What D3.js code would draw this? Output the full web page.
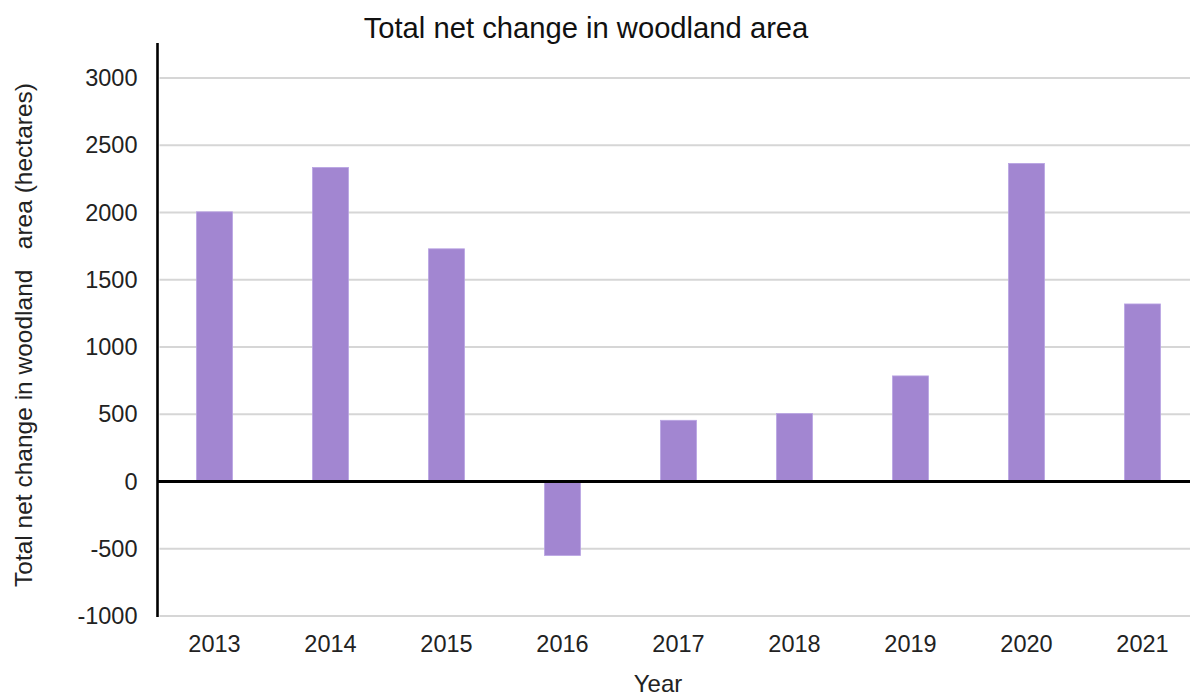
<!DOCTYPE html>
<html>
<head>
<meta charset="utf-8">
<script src="https://cdn.jsdelivr.net/npm/d3@7"></script>
<style>
  html, body { margin: 0; padding: 0; background: #ffffff; }
  svg { display: block; font-family: "Liberation Sans", Arial, sans-serif; }
</style>
</head>
<body>
<svg id="chart" width="1190" height="698"></svg>
<script>
// Net change in woodland area per year (hectares)
const years = ["2013", "2014", "2015", "2016", "2017", "2018", "2019", "2020", "2021"];
const netChange = [2005, 2335, 1730, -550, 455, 505, 785, 2365, 1320];
const yTicks = [-1000, -500, 0, 500, 1000, 1500, 2000, 2500, 3000];

const titleText = "Total net change in woodland area";
const yTitle = "Total net change in woodland   area (hectares)";
const xTitle = "Year";

const svg = d3.select("#chart");
const W = 1190;

const x = d3.scaleBand()
  .domain(years)
  .range([156.5, 1200.5])
  .paddingInner(0.69)
  .paddingOuter(0.345);

const y = d3.scaleLinear()
  .domain([-1000, 3000])
  .range([616, 78]);

const axisLeftX = 157.5;

// horizontal gridlines
svg.append("g")
  .selectAll("line")
  .data(yTicks.filter(d => d !== 0))
  .join("line")
  .attr("x1", axisLeftX + 2)
  .attr("x2", W)
  .attr("y1", d => y(d))
  .attr("y2", d => y(d))
  .attr("stroke", "#d6d6d6")
  .attr("stroke-width", 2);

// bars
svg.append("g")
  .selectAll("rect")
  .data(years.map((yr, i) => ({ yr, v: netChange[i] })))
  .join("rect")
  .attr("x", d => x(d.yr))
  .attr("width", x.bandwidth())
  .attr("y", d => y(Math.max(0, d.v)))
  .attr("height", d => Math.abs(y(d.v) - y(0)))
  .attr("fill", "#a286d1")
  .attr("stroke", "#b9a3e3")
  .attr("stroke-width", 0.8);

// zero baseline
svg.append("line")
  .attr("x1", axisLeftX)
  .attr("x2", W)
  .attr("y1", y(0))
  .attr("y2", y(0))
  .attr("stroke", "#000")
  .attr("stroke-width", 3);

// left axis: labels only, plain hyphen for negatives
const yAxis = d3.axisLeft(y)
  .tickValues(yTicks)
  .tickSize(0)
  .tickPadding(20)
  .tickFormat(d => String(d));

const gy = svg.append("g")
  .attr("transform", `translate(${axisLeftX},0)`)
  .call(yAxis);
gy.select(".domain").remove();
gy.selectAll("text")
  .attr("font-size", 23.5)
  .attr("font-family", "Liberation Sans, Arial, sans-serif")
  .attr("fill", "#222");

svg.append("line")
  .attr("x1", axisLeftX)
  .attr("x2", axisLeftX)
  .attr("y1", 43)
  .attr("y2", 617)
  .attr("stroke", "#000")
  .attr("stroke-width", 2.6);

// bottom category labels
const xAxis = d3.axisBottom(x).tickSize(0).tickPadding(0);
const gx = svg.append("g")
  .attr("transform", "translate(0,635)")
  .call(xAxis);
gx.select(".domain").remove();
gx.selectAll("text")
  .attr("font-size", 23.5)
  .attr("font-family", "Liberation Sans, Arial, sans-serif")
  .attr("fill", "#222");

// titles
svg.append("text")
  .attr("x", 586)
  .attr("y", 38)
  .attr("text-anchor", "middle")
  .attr("font-size", 29.2)
  .attr("fill", "#111")
  .text(titleText);

svg.append("text")
  .attr("transform", "translate(32,335) rotate(-90)")
  .attr("text-anchor", "middle")
  .attr("font-size", 24.5)
  .attr("fill", "#222")
  .style("white-space", "pre")
  .text(yTitle);

svg.append("text")
  .attr("x", 658)
  .attr("y", 692)
  .attr("text-anchor", "middle")
  .attr("font-size", 24)
  .attr("fill", "#222")
  .text(xTitle);
</script>
</body>
</html>
